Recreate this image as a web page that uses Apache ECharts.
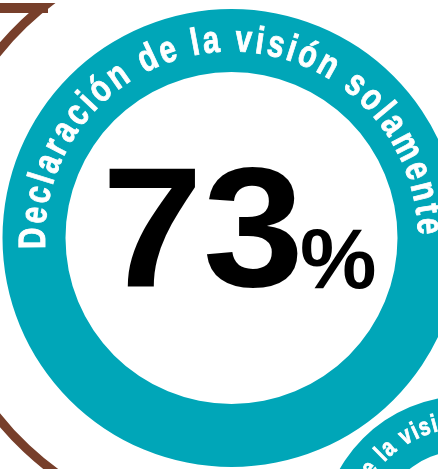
<!DOCTYPE html>
<html>
<head>
<meta charset="utf-8">
<script src="https://cdn.jsdelivr.net/npm/echarts@6/dist/echarts.min.js"></script>
<style>
  html, body { margin: 0; padding: 0; background: #fff; }
  #chart { width: 438px; height: 469px; }
</style>
</head>
<body>
<div id="chart"></div>
<script>
// 数据
const ringLabels = ['Declaración de la visión solamente', 'Declaración de la visión'];
const ringTotals = [100, 100];
const shareValue = 73;
const shareUnit = '%';

const TEAL = '#00a6b8';
const BROWN = '#773f2b';
const ARC_FONT = '"Liberation Sans", Arial, sans-serif';
const ARC_SX = 0.78; // 窄体效果

const measure = document.createElement('canvas').getContext('2d');

// 沿圆弧逐字排列文字（顺时针），anchor 表示 startDeg 对应的字符序号
function arcText(text, cx, cy, r, rb, startDeg, endDeg, size, tracking, anchor) {
  const font = 'bold ' + size + 'px ' + ARC_FONT;
  measure.font = font;
  const chars = Array.from(text);
  const widths = chars.map(c => measure.measureText(c).width * ARC_SX);
  const total = widths.reduce((a, b) => a + b, 0);
  if (endDeg != null) {
    tracking = ((startDeg - endDeg) * Math.PI / 180 * rb - total) / (chars.length - 1);
  }
  let a = startDeg * Math.PI / 180;
  if (anchor) {
    const pre = widths.slice(0, anchor).reduce((s, w) => s + w, 0) + tracking * anchor;
    a += pre / rb;
  }
  const out = [];
  chars.forEach((c, i) => {
    const w = widths[i];
    const mid = a - (w / 2) / rb;
    a -= (w + tracking) / rb;
    if (c === ' ') return;
    out.push({
      type: 'text',
      x: cx + r * Math.cos(mid),
      y: cy - r * Math.sin(mid),
      rotation: mid - Math.PI / 2,
      scaleX: ARC_SX,
      silent: true,
      z: 10,
      style: {
        text: c, fill: '#fff', font: font,
        stroke: '#fff', lineWidth: 0.9,
        align: 'center', verticalAlign: 'middle',
        textAlign: 'center', textVerticalAlign: 'middle'
      }
    });
  });
  return out;
}

function ring(center, radius, color, value) {
  return {
    type: 'pie',
    center: center,
    radius: radius,
    silent: true,
    animation: false,
    label: { show: false },
    labelLine: { show: false },
    emphasis: { disabled: true },
    itemStyle: { color: color, borderWidth: 0 },
    data: [{ value: value }]
  };
}

const chart = echarts.init(document.getElementById('chart'));

chart.setOption({
  backgroundColor: '#fff',
  animation: false,
  series: [
    ring([231.5, 238], [166, 229], TEAL, ringTotals[0]),
    ring([465, 540], [90, 144], TEAL, ringTotals[1])
  ],
  graphic: [
    // 左侧棕色弧线
    {
      type: 'arc', silent: true, z: 1,
      shape: { cx: 227, cy: 235, r: 293, startAngle: Math.PI * 0.62, endAngle: Math.PI * 1.3, clockwise: true },
      style: { stroke: BROWN, lineWidth: 9, fill: null }
    },
    {
      type: 'rect', silent: true, z: 1,
      shape: { x: 0, y: 3, width: 48, height: 10 },
      style: { fill: BROWN }
    },
    {
      type: 'rect', silent: true, z: 2,
      shape: { x: 0, y: 0, width: 100, height: 3 },
      style: { fill: '#fff' }
    },
    {
      type: 'text', silent: true, z: 10,
      x: 304, y: 239,
      scaleX: 1.07,
      style: {
        text: String(shareValue), fill: '#000',
        font: 'bold 170px "Liberation Sans", Arial, sans-serif',
        align: 'right', verticalAlign: 'middle',
        textAlign: 'right', textVerticalAlign: 'middle'
      }
    },
    {
      type: 'text', silent: true, z: 10,
      x: 300, y: 264,
      style: {
        text: shareUnit, fill: '#000',
        font: 'bold 86px "Liberation Sans", Arial, sans-serif',
        align: 'left', verticalAlign: 'middle',
        textAlign: 'left', textVerticalAlign: 'middle'
      }
    }
  ]
    .concat(arcText(ringLabels[0], 231.5, 238, 197, 184, 183.4, 0.9, 38))
    .concat(arcText(ringLabels[1], 465, 540, 119, 111, 153, null, 25, 1.5, 12))
});
</script>
</body>
</html>
